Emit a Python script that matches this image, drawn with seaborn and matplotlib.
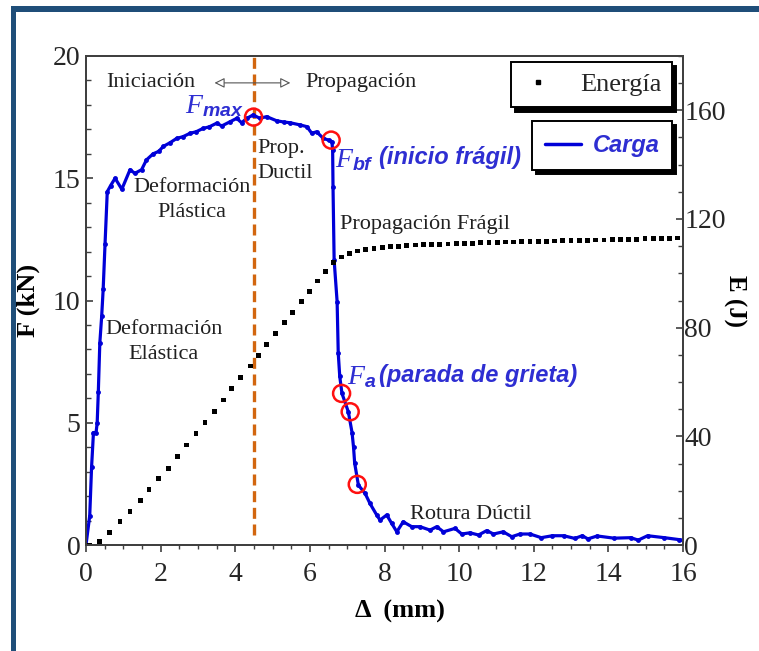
import matplotlib
matplotlib.use('Agg')
import matplotlib.pyplot as plt
from matplotlib.lines import Line2D
from matplotlib.patches import Rectangle
from matplotlib.ticker import MultipleLocator
import seaborn as sns


# curva de carga F (kN) frente a desplazamiento (mm)
carga_x = [0.0, 0.10, 0.15, 0.20, 0.27, 0.30, 0.33, 0.37, 0.42, 0.46, 0.51, 0.57,
           0.66, 0.78, 0.96, 1.18, 1.31, 1.49, 1.62, 1.80, 1.95, 2.07, 2.25, 2.43,
           2.60, 2.79, 2.95, 3.14, 3.30, 3.50, 3.64, 3.86, 4.04, 4.17, 4.31, 4.48,
           4.66, 4.84, 5.11, 5.30, 5.47, 5.74, 5.92, 6.05, 6.18, 6.36, 6.50, 6.59,
           6.61, 6.62, 6.65, 6.73, 6.76, 6.80, 6.86, 7.03, 7.13, 7.17, 7.20, 7.30,
           7.48, 7.61, 7.79, 7.88, 8.06, 8.19, 8.33, 8.50, 8.73, 8.95, 9.22, 9.40,
           9.58, 9.89, 10.07, 10.29, 10.52, 10.74, 10.92, 11.18, 11.41, 11.63, 11.90,
           12.20, 12.50, 12.80, 13.10, 13.30, 13.45, 13.70, 14.15, 14.60, 14.80,
           15.05, 15.50, 15.90, 16.00]
carga_f = [0.0, 1.2, 3.2, 4.6, 4.6, 5.0, 6.25, 8.25, 9.35, 10.45, 12.3, 14.45,
           14.7, 15.0, 14.55, 15.35, 15.2, 15.35, 15.75, 16.0, 16.1, 16.3, 16.45, 16.63,
           16.7, 16.84, 16.9, 17.04, 17.1, 17.25, 17.14, 17.31, 17.45, 17.27, 17.45, 17.59,
           17.45, 17.52, 17.35, 17.3, 17.27, 17.18, 17.11, 16.84, 16.9, 16.63, 16.56, 16.5,
           16.15, 14.65, 11.65, 9.95, 7.85, 6.9, 6.2, 5.45, 4.6, 4.0, 3.35, 2.45,
           2.11, 1.7, 1.23, 1.02, 1.23, 0.89, 0.54, 0.95, 0.75, 0.75, 0.61, 0.75,
           0.54, 0.68, 0.45, 0.5, 0.41, 0.59, 0.45, 0.54, 0.34, 0.45, 0.45,
           0.30, 0.38, 0.38, 0.27, 0.38, 0.25, 0.37, 0.28, 0.30, 0.20,
           0.38, 0.30, 0.22, 0.20]

# energia E (J)
energia_x = [0.10, 0.37, 0.64, 0.91, 1.18, 1.45, 1.69, 1.94, 2.21, 2.46, 2.70, 2.95,
             3.19, 3.44, 3.68, 3.91, 4.15, 4.40, 4.62, 4.84, 5.07, 5.31, 5.54, 5.77,
             5.99, 6.20, 6.41, 6.63, 6.84, 7.06, 7.28, 7.50, 7.72, 7.94, 8.16, 8.38,
             8.60, 8.82, 9.04, 9.26, 9.48, 9.70, 9.92, 10.14, 10.36, 10.58, 10.80,
             11.02, 11.24, 11.46, 11.68, 11.90, 12.12, 12.34, 12.56, 12.78, 13.00,
             13.22, 13.44, 13.66, 13.88, 14.10, 14.32, 14.54, 14.76, 14.98, 15.20,
             15.42, 15.64, 15.86]
energia_e = [0.0, 1.2, 4.5, 8.6, 12.4, 16.3, 20.5, 24.4, 28.2, 32.5, 36.8, 41.0,
             45.2, 49.2, 53.4, 57.5, 61.7, 65.9, 69.8, 73.8, 77.8, 81.8, 85.5, 89.6,
             93.3, 97.2, 100.6, 104.1, 106.0, 107.4, 108.2, 108.8, 109.2, 109.5, 109.8, 110.0,
             110.2, 110.4, 110.5, 110.6, 110.7, 110.8, 110.9, 111.0, 111.1, 111.2, 111.3,
             111.4, 111.5, 111.5, 111.6, 111.7, 111.8, 111.8, 111.9, 112.0, 112.1,
             112.1, 112.2, 112.3, 112.3, 112.4, 112.5, 112.5, 112.6, 112.7, 112.7,
             112.8, 112.9, 113.0]

# puntos marcados (Fmax, Fbf, Fa ...)
puntos_x = [4.49, 6.57, 6.85, 7.08, 7.27]
puntos_f = [17.5, 16.56, 6.2, 5.45, 2.48]

AZUL = '#0000D8'
AZUL_TXT = '#2E2ED2'
GRIS = '#404040'

sns.set_style('ticks')
plt.rcParams['font.family'] = ['Liberation Serif', 'DejaVu Serif']
plt.rcParams['mathtext.fontset'] = 'custom'
plt.rcParams['mathtext.it'] = 'Liberation Serif:italic'
plt.rcParams['mathtext.rm'] = 'Liberation Serif'
plt.rcParams['mathtext.sf'] = 'Liberation Sans:italic:bold'

fig = plt.figure(figsize=(7.59, 6.51), dpi=100)
ax = fig.add_axes([0.1133, 0.1628, 0.7866, 0.7512])
ax2 = ax.twinx()

# marco azul de la diapositiva
fig.add_artist(Rectangle((0.0145, 0.9816), 0.99, 0.0092, transform=fig.transFigure,
                         color='#1F4E79', lw=0))
fig.add_artist(Rectangle((0.0145, 0.0), 0.0066, 0.9908, transform=fig.transFigure,
                         color='#1F4E79', lw=0))

ax.axvline(4.5, ymin=0.02, ymax=1, color='#D2660F', lw=2.4, dashes=(3.3, 1.7), zorder=2)

sns.lineplot(x=carga_x, y=carga_f, ax=ax, sort=False, estimator=None, color=AZUL,
             lw=2.3, marker='o', markersize=3.5, markeredgewidth=0, zorder=3)
ax.scatter(puntos_x, puntos_f, s=150, facecolors='none', edgecolors='#FF1010',
           linewidths=1.8, zorder=5)

sns.scatterplot(x=energia_x, y=energia_e, ax=ax2, color='black', s=12, marker='s',
                edgecolor='none', linewidth=0, legend=False)

ax.set_xlim(0, 16)
ax.set_ylim(0, 20)
ax2.set_ylim(0, 180)
ax.set_xticks(range(0, 17, 2))
ax.xaxis.set_minor_locator(MultipleLocator(0.5))
ax.set_yticks([0, 5, 10, 15, 20])
ax.yaxis.set_minor_locator(MultipleLocator(1))
ax2.set_yticks([0, 40, 80, 120, 160])
ax2.yaxis.set_minor_locator(MultipleLocator(10))

ax.tick_params(axis='x', which='major', direction='out', length=5, width=1.2,
               labelsize=20, pad=7, color=GRIS)
ax.tick_params(axis='x', which='minor', direction='out', length=3, width=1.0, color=GRIS)
ax.tick_params(axis='y', which='major', direction='in', length=5, width=1.2,
               labelsize=20, pad=4, color=GRIS)
ax.tick_params(axis='y', which='minor', direction='in', length=3.5, width=1.0, color=GRIS)
ax2.tick_params(axis='y', which='major', direction='in', length=5, width=1.2,
                labelsize=20, pad=1, color=GRIS)
ax2.tick_params(axis='y', which='minor', direction='in', length=3.5, width=1.0, color=GRIS)
for a in (ax, ax2):
    for s in a.spines.values():
        s.set_color(GRIS)
        s.set_linewidth(1.4)

ax.set_xlabel('Δ  (mm)', fontsize=19, fontweight='bold', color='black')
ax.xaxis.set_label_coords(0.526, -0.113)
ax.set_ylabel('F (kN)', fontsize=19, fontweight='bold', color='black')
ax.yaxis.set_label_coords(-0.077, 0.5)
ax2.set_ylabel('E (J)', rotation=270, fontsize=18, fontweight='bold', color='black',
               va='center', ha='center')
ax2.yaxis.set_label_coords(1.087, 0.5)

# textos de las zonas
txt = dict(fontsize=16, color='#202020')
ax.text(1.75, 18.9, 'Iniciación', ha='center', va='center', **txt)
ax.text(5.87, 18.9, 'Propagación', ha='left', va='center', **txt)
ax.annotate('', xy=(3.37, 18.9), xytext=(5.55, 18.9),
            arrowprops=dict(arrowstyle='<|-|>', fc='white', ec='#555555', lw=0.8,
                            mutation_scale=15))
ax.text(4.6, 15.7, 'Prop.\nDuctil', ha='left', va='center', linespacing=1.45, **txt)
ax.text(2.83, 14.1, 'Deformación\nPlástica', ha='center', va='center',
        multialignment='center', linespacing=1.4, **txt)
ax.text(2.08, 8.3, 'Deformación\nElástica', ha='center', va='center',
        multialignment='center', linespacing=1.4, **txt)
ax.text(6.8, 13.1, 'Propagación Frágil', ha='left', va='center', **txt)
ax.text(8.69, 1.25, 'Rotura Dúctil', ha='left', va='center', **txt)

ax.text(4.22, 17.95, r'$F_{\mathsf{max}}$', ha='right', va='center', fontsize=20, color=AZUL_TXT)
ax.text(6.68, 15.75, r'$F_{\mathsf{bf}}$', ha='left', va='center', fontsize=20, color=AZUL_TXT)
ax.text(7.85, 15.85, '(inicio frágil)', ha='left', va='center', fontsize=17,
        family='Liberation Sans', style='italic', weight='bold', color=AZUL_TXT)
ax.text(7.0, 6.85, r'$F_{\mathsf{a}}$', ha='left', va='center', fontsize=20, color=AZUL_TXT)
ax.text(7.85, 6.95, '(parada de grieta)', ha='left', va='center', fontsize=17,
        family='Liberation Sans', style='italic', weight='bold', color=AZUL_TXT)

# leyendas con sombra
sombra = {'color': 'black', 'alpha': 1, 'ox': 3, 'oy': -3}
h1 = Line2D([], [], ls='none', marker='s', ms=3, color='black')
leg1 = ax2.legend([h1], ['Energía'], loc='upper right', bbox_to_anchor=(0.982, 0.988),
                  borderaxespad=0, frameon=True, fancybox=False, shadow=sombra,
                  prop={'family': 'Liberation Serif', 'size': 19},
                  handlelength=1.2, borderpad=0.42, handletextpad=1.0)
leg1.get_frame().set_edgecolor('black')
leg1.get_frame().set_linewidth(1.4)
leg1.get_frame().set_alpha(1)
ax2.add_artist(leg1)

h2 = Line2D([], [], color=AZUL, lw=2.5)
leg2 = ax2.legend([h2], ['Carga'], loc='upper right', bbox_to_anchor=(0.982, 0.867),
                  borderaxespad=0, frameon=True, fancybox=False, shadow=sombra,
                  prop={'family': 'Liberation Sans', 'style': 'italic', 'weight': 'bold',
                        'size': 17},
                  labelcolor=AZUL_TXT, handlelength=1.5, borderpad=0.55, handletextpad=0.5)
leg2.get_frame().set_edgecolor('black')
leg2.get_frame().set_linewidth(1.4)
leg2.get_frame().set_alpha(1)

fig.savefig('out.png', dpi=100)
